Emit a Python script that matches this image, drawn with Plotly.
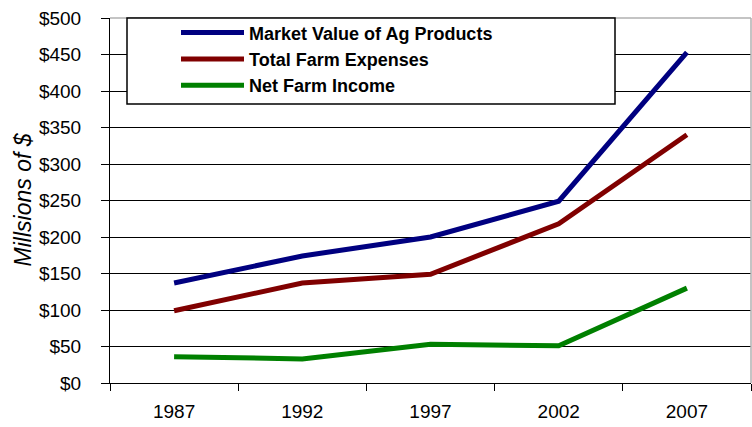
import plotly.graph_objects as go

years = ["1987", "1992", "1997", "2002", "2007"]
market_value = [137, 174, 200, 249, 453]
farm_expenses = [99, 137, 149, 218, 340]
net_income = [36, 33, 53, 51, 130]
y_ticks = [0, 50, 100, 150, 200, 250, 300, 350, 400, 450, 500]
y_labels = ["$" + str(v) for v in y_ticks]

FONT = "Liberation Sans, Arial, sans-serif"

fig = go.Figure()
series = [
    ("Market Value of Ag Products", market_value, "#000080"),
    ("Total Farm Expenses", farm_expenses, "#800000"),
    ("Net Farm Income", net_income, "#008000"),
]
for name, vals, color in series:
    fig.add_trace(go.Scatter(
        x=years, y=vals, name=name, mode="lines",
        line=dict(color=color, width=5),
    ))

fig.update_layout(
    width=752, height=427,
    margin=dict(l=110, r=1, t=18, b=44, autoexpand=False),
    paper_bgcolor="white", plot_bgcolor="white",
    font=dict(family=FONT, size=19, color="black"),
    showlegend=True,
    legend=dict(
        x=(176 - 110) / 641, y=1.01, xanchor="left", yanchor="top",
        bgcolor="rgba(0,0,0,0)", borderwidth=0,
        font=dict(family=FONT, size=18, color="black", weight="bold"),
        itemwidth=63, tracegroupgap=0,
    ),
    xaxis=dict(
        type="category", range=[-0.5, 4.5],
        showgrid=False, showline=True, linecolor="black", linewidth=1,
        ticks="outside", tickson="boundaries", ticklen=7, tickcolor="black",
        tickfont=dict(family=FONT, size=19, color="black"),
        ticklabelstandoff=11,
        fixedrange=True, automargin=False,
    ),
    yaxis=dict(
        range=[0, 500], tickvals=y_ticks, ticktext=y_labels,
        showgrid=True, gridcolor="black", gridwidth=1,
        showline=True, linecolor="black", linewidth=1,
        ticks="outside", ticklen=8, tickcolor="black",
        tickfont=dict(family=FONT, size=19, color="black"),
        ticklabelstandoff=16,
        zeroline=False, automargin=False,
    ),
    shapes=[
        dict(type="line", xref="paper", yref="paper", x0=0, x1=1, y0=1, y1=1,
             line=dict(color="#b0b0b0", width=1.5), layer="above"),
        dict(type="line", xref="paper", yref="paper", x0=1, x1=1, y0=0, y1=1,
             line=dict(color="#b0b0b0", width=1.5), layer="above"),
        dict(type="rect", xref="paper", yref="paper",
             x0=(127 - 110) / 641, x1=(615 - 110) / 641,
             y0=(383 - 104) / 365, y1=1,
             fillcolor="white", line=dict(color="black", width=1.5), layer="above"),
    ],
    annotations=[
        dict(text="Millsions of $", xref="paper", yref="paper",
             x=(23 - 110) / 641, y=0.503, xanchor="center", yanchor="middle",
             textangle=-90, showarrow=False,
             font=dict(family=FONT, size=23, color="black", style="italic")),
    ],
)

fig.write_html("out.html", config={"displayModeBar": False},
               post_script="document.body.style.margin='0';")
